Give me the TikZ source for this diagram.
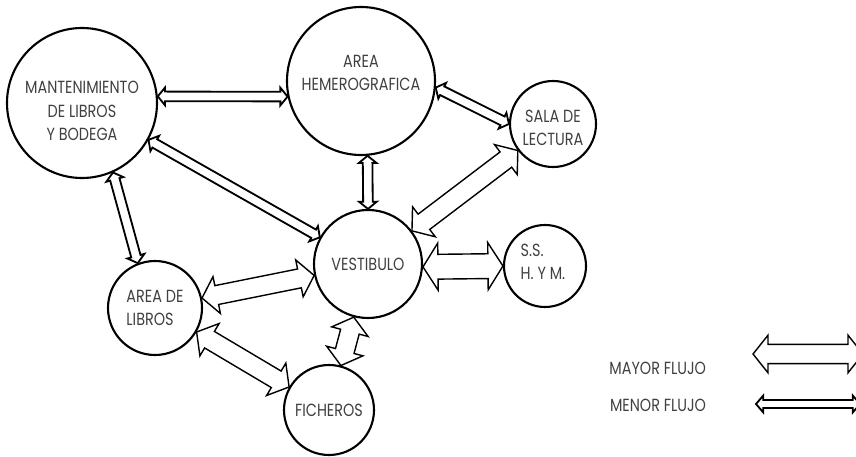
\documentclass[tikz,border=0pt]{standalone}
\usepackage{fontspec}
\setmainfont{Poppins}[FakeStretch=0.82]
\usetikzlibrary{calc}

\begin{document}
\begin{tikzpicture}
\tikzset{
    zona/.style={circle, line width=1.5pt, draw=black, inner sep=0pt},
    texto/.style={align=center, text=black!75, font=\fontsize{12.5}{16.5}\selectfont},
    etiqueta/.style={texto, anchor=east},
    flecha/.style n args={4}{line width=#1, to path={
        ($(\tikztostart)!#4!(\tikztotarget)!#3!90:(\tikztotarget)$) -- (\tikztostart)
        -- ($(\tikztostart)!#4!(\tikztotarget)!#3!-90:(\tikztotarget)$)
        -- ($(\tikztostart)!#4!(\tikztotarget)!#2!-90:(\tikztotarget)$)
        -- ($(\tikztotarget)!#4!(\tikztostart)!#2!90:(\tikztostart)$)
        -- ($(\tikztotarget)!#4!(\tikztostart)!#3!90:(\tikztostart)$) -- (\tikztotarget)
        -- ($(\tikztotarget)!#4!(\tikztostart)!#3!-90:(\tikztostart)$)
        -- ($(\tikztotarget)!#4!(\tikztostart)!#2!-90:(\tikztostart)$)
        -- ($(\tikztostart)!#4!(\tikztotarget)!#2!90:(\tikztotarget)$) -- cycle}},
    mayor/.style={flecha={1pt}{0.24cm}{0.47cm}{0.375cm}},
    menor/.style={flecha={1.3pt}{0.12cm}{0.22cm}{0.18cm}}
}
\useasboundingbox (0,0) rectangle (21.4,11.4);
\clip (0,0) rectangle (21.4,11.4);

% Areas
\node[zona, minimum size=3.75cm, label={[texto, yshift=-0.2cm]center:MANTENIMIENTO\\DE LIBROS\\Y BODEGA}]
    (mant) at (2.05,8.825) {};
\node[zona, minimum size=3.7cm, label={[texto, yshift=0.2cm]center:AREA\\HEMEROGRAFICA}]
    (hemero) at (9.025,9.375) {};
\node[zona, minimum size=2.15cm, label={[texto, yshift=-0.1cm]center:SALA DE\\LECTURA}]
    (sala) at (13.825,8.3) {};
\node[zona, minimum size=2.7cm, label={[texto]center:VESTIBULO}]
    (vest) at (9.2,4.8) {};
\node[zona, minimum size=2.05cm, label={[texto, align=left, xshift=-0.05cm, yshift=0.1cm]center:S.S.\\H. Y M.}]
    (ss) at (13.625,4.75) {};
\node[zona, minimum size=2.35cm, label={[texto, align=left]center:AREA DE\\LIBROS}]
    (libros) at (3.875,3.7) {};
\node[zona, minimum size=2.25cm, label={[texto]center:FICHEROS}]
    (fich) at (8.225,1.15) {};

% Menor flujo
\draw[menor] (mant.5)     to (hemero.192);
\draw[menor] (mant.-29)   to (vest.151);
\draw[menor] (mant.-66)   to (libros.111);
\draw[menor] (hemero.-5)  to (sala.180);
\draw[menor] (hemero.-85) to (vest.90);

% Mayor flujo
\draw[mayor] (vest.37)    to (sala.217);
\draw[flecha={1pt}{0.31cm}{0.59cm}{0.375cm}] (vest.-3) to (ss.180);
\draw[mayor] (libros.12)  to (vest.192);
\draw[mayor] (libros.-30) to (fich.150);
\draw[mayor] (fich.75)    to (vest.255);

% Leyenda
\node[etiqueta] (lmayor) at (17.775,2.2)   {MAYOR FLUJO};
\node[etiqueta] (lmenor) at (17.775,1.275) {MENOR FLUJO};
\coordinate (may1) at (18.825,2.55);
\coordinate (may2) at (21.575,2.55);
\coordinate (men1) at (18.9,1.3);
\coordinate (men2) at (21.5,1.3);
\draw[mayor] (may1) to (may2);
\draw[flecha={1.3pt}{0.1cm}{0.21cm}{0.18cm}] (men1) to (men2);
\end{tikzpicture}
\end{document}
